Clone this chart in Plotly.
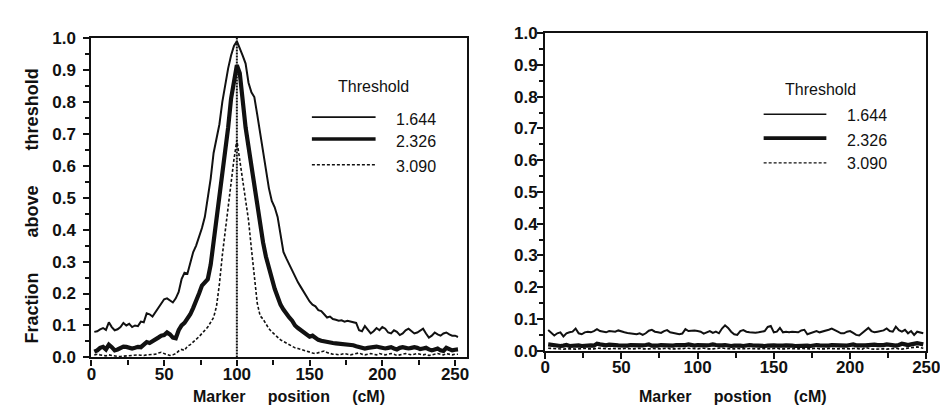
import plotly.graph_objects as go

# ---------------- data ----------------
x_left = list(range(2, 253, 2))          # 2..252 cM
x_right = list(range(2, 249, 2))         # 2..248 cM
qtl_position = 100

left_1644 = [0.080, 0.082, 0.088, 0.092, 0.086, 0.110, 0.095, 0.085, 0.088, 0.095,
             0.108, 0.100, 0.105, 0.095, 0.100, 0.098, 0.112, 0.110, 0.138, 0.135,
             0.128, 0.142, 0.155, 0.170, 0.182, 0.185, 0.178, 0.172, 0.185, 0.205,
             0.245, 0.265, 0.262, 0.300, 0.330, 0.350, 0.375, 0.405, 0.440, 0.500,
             0.560, 0.640, 0.680, 0.730, 0.800, 0.860, 0.905, 0.945, 0.975, 0.990,
             0.970, 0.945, 0.920, 0.860, 0.830, 0.815, 0.760, 0.700, 0.650, 0.580,
             0.530, 0.490, 0.470, 0.440, 0.390, 0.330, 0.310, 0.290, 0.270, 0.255,
             0.235, 0.220, 0.205, 0.190, 0.175, 0.165, 0.160, 0.148, 0.145, 0.135,
             0.125, 0.128, 0.120, 0.118, 0.115, 0.116, 0.112, 0.115, 0.112, 0.110,
             0.108, 0.085, 0.082, 0.098, 0.085, 0.075, 0.082, 0.092, 0.085, 0.095,
             0.090, 0.078, 0.075, 0.085, 0.080, 0.070, 0.075, 0.085, 0.090, 0.082,
             0.075, 0.078, 0.085, 0.090, 0.075, 0.062, 0.068, 0.078, 0.072, 0.068,
             0.075, 0.078, 0.072, 0.068, 0.068, 0.064]

left_2326 = [0.018, 0.022, 0.030, 0.033, 0.025, 0.040, 0.032, 0.022, 0.025, 0.030,
             0.034, 0.033, 0.030, 0.028, 0.030, 0.033, 0.032, 0.040, 0.048, 0.045,
             0.052, 0.058, 0.062, 0.068, 0.070, 0.078, 0.072, 0.062, 0.060, 0.085,
             0.100, 0.108, 0.120, 0.135, 0.155, 0.175, 0.200, 0.225, 0.235, 0.245,
             0.290, 0.360, 0.430, 0.500, 0.580, 0.650, 0.720, 0.810, 0.870, 0.915,
             0.890, 0.800, 0.720, 0.660, 0.600, 0.530, 0.470, 0.420, 0.360, 0.315,
             0.280, 0.250, 0.215, 0.190, 0.165, 0.150, 0.135, 0.125, 0.115, 0.100,
             0.092, 0.085, 0.078, 0.070, 0.065, 0.068, 0.060, 0.055, 0.052, 0.050,
             0.046, 0.045, 0.045, 0.044, 0.043, 0.044, 0.042, 0.040, 0.040, 0.038,
             0.035, 0.032, 0.030, 0.028, 0.030, 0.032, 0.035, 0.034, 0.032, 0.030,
             0.028, 0.030, 0.032, 0.028, 0.025, 0.030, 0.032, 0.030, 0.028, 0.030,
             0.032, 0.030, 0.026, 0.028, 0.030, 0.025, 0.022, 0.025, 0.028, 0.022,
             0.020, 0.030, 0.025, 0.022, 0.024, 0.025]

left_3090 = [0.008, 0.010, 0.008, 0.006, 0.005, 0.008, 0.006, 0.004, 0.003, 0.003,
             0.004, 0.003, 0.004, 0.005, 0.006, 0.008, 0.007, 0.006, 0.008, 0.008,
             0.008, 0.010, 0.014, 0.016, 0.012, 0.008, 0.006, 0.008, 0.012, 0.020,
             0.025, 0.022, 0.035, 0.040, 0.048, 0.055, 0.065, 0.075, 0.085, 0.095,
             0.110, 0.125, 0.160, 0.230, 0.320, 0.400, 0.470, 0.560, 0.620, 0.680,
             0.620, 0.560, 0.490, 0.430, 0.340, 0.260, 0.170, 0.130, 0.120, 0.105,
             0.090, 0.080, 0.072, 0.062, 0.055, 0.050, 0.045, 0.040, 0.035, 0.030,
             0.028, 0.025, 0.022, 0.018, 0.015, 0.014, 0.012, 0.015, 0.018, 0.020,
             0.015, 0.012, 0.010, 0.010, 0.008, 0.010, 0.012, 0.010, 0.008, 0.010,
             0.012, 0.014, 0.010, 0.008, 0.010, 0.012, 0.010, 0.008, 0.012, 0.010,
             0.008, 0.010, 0.012, 0.010, 0.006, 0.008, 0.010, 0.012, 0.010, 0.008,
             0.010, 0.012, 0.010, 0.008, 0.010, 0.006, 0.008, 0.010, 0.012, 0.010,
             0.008, 0.012, 0.010, 0.008, 0.010, 0.010]

right_1644 = [0.065, 0.055, 0.048, 0.055, 0.058, 0.045, 0.055, 0.058, 0.060, 0.070,
              0.055, 0.052, 0.058, 0.060, 0.058, 0.062, 0.068, 0.062, 0.060, 0.058,
              0.062, 0.060, 0.060, 0.064, 0.060, 0.058, 0.056, 0.055, 0.054, 0.052,
              0.055, 0.050, 0.055, 0.063, 0.066, 0.060, 0.058, 0.056, 0.062, 0.065,
              0.058, 0.056, 0.055, 0.052, 0.054, 0.068, 0.062, 0.063, 0.064, 0.062,
              0.060, 0.054, 0.058, 0.062, 0.056, 0.060, 0.055, 0.070, 0.080, 0.072,
              0.060, 0.052, 0.050, 0.062, 0.065, 0.060, 0.058, 0.057, 0.057, 0.058,
              0.060, 0.062, 0.075, 0.078, 0.058, 0.060, 0.072, 0.058, 0.060, 0.058,
              0.060, 0.058, 0.058, 0.064, 0.066, 0.052, 0.055, 0.058, 0.062, 0.058,
              0.060, 0.064, 0.066, 0.070, 0.066, 0.060, 0.055, 0.055, 0.060, 0.062,
              0.056, 0.050, 0.048, 0.056, 0.064, 0.072, 0.062, 0.058, 0.060, 0.062,
              0.064, 0.070, 0.062, 0.060, 0.076, 0.065, 0.060, 0.066, 0.055, 0.062,
              0.050, 0.060, 0.058, 0.055]

right_2326 = [0.020, 0.018, 0.016, 0.017, 0.015, 0.016, 0.018, 0.015, 0.016, 0.018,
              0.017, 0.015, 0.016, 0.018, 0.017, 0.016, 0.022, 0.020, 0.018, 0.017,
              0.019, 0.020, 0.018, 0.017, 0.016, 0.015, 0.016, 0.018, 0.017, 0.016,
              0.018, 0.017, 0.018, 0.020, 0.016, 0.015, 0.016, 0.018, 0.017, 0.016,
              0.015, 0.016, 0.018, 0.017, 0.016, 0.018, 0.020, 0.017, 0.016, 0.018,
              0.017, 0.015, 0.017, 0.018, 0.020, 0.018, 0.016, 0.017, 0.018, 0.016,
              0.015, 0.016, 0.017, 0.016, 0.015, 0.017, 0.018, 0.017, 0.016, 0.017,
              0.016, 0.015, 0.016, 0.018, 0.017, 0.016, 0.015, 0.016, 0.017, 0.018,
              0.016, 0.015, 0.016, 0.017, 0.018, 0.016, 0.015, 0.017, 0.018, 0.017,
              0.016, 0.015, 0.016, 0.018, 0.017, 0.016, 0.018, 0.017, 0.016, 0.018,
              0.020, 0.017, 0.016, 0.018, 0.017, 0.018, 0.020, 0.019, 0.018, 0.017,
              0.018, 0.020, 0.018, 0.017, 0.016, 0.018, 0.022, 0.020, 0.018, 0.020,
              0.022, 0.024, 0.022, 0.020]

right_3090 = [0.008, 0.007, 0.006, 0.007, 0.006, 0.005, 0.006, 0.007, 0.006, 0.005,
              0.006, 0.007, 0.008, 0.006, 0.005, 0.006, 0.008, 0.007, 0.006, 0.005,
              0.006, 0.007, 0.006, 0.005, 0.006, 0.007, 0.006, 0.005, 0.006, 0.007,
              0.008, 0.006, 0.005, 0.006, 0.007, 0.006, 0.005, 0.006, 0.007, 0.008,
              0.006, 0.005, 0.006, 0.007, 0.006, 0.008, 0.007, 0.006, 0.005, 0.006,
              0.007, 0.008, 0.006, 0.005, 0.006, 0.007, 0.008, 0.009, 0.007, 0.006,
              0.005, 0.006, 0.007, 0.006, 0.005, 0.006, 0.007, 0.006, 0.005, 0.006,
              0.007, 0.006, 0.005, 0.006, 0.007, 0.008, 0.006, 0.005, 0.006, 0.007,
              0.006, 0.005, 0.006, 0.007, 0.006, 0.005, 0.006, 0.007, 0.008, 0.006,
              0.005, 0.006, 0.007, 0.006, 0.005, 0.006, 0.007, 0.006, 0.005, 0.006,
              0.007, 0.008, 0.006, 0.005, 0.010, 0.007, 0.006, 0.005, 0.006, 0.007,
              0.006, 0.005, 0.006, 0.007, 0.008, 0.006, 0.005, 0.007, 0.008, 0.009,
              0.010, 0.012, 0.010, 0.008]

thresholds = ["1.644", "2.326", "3.090"]
x_ticks = [0, 50, 100, 150, 200, 250]
x_tick_text = ["0", "50", "100", "150", "200", "250"]
y_ticks = [0.0, 0.1, 0.2, 0.3, 0.4, 0.5, 0.6, 0.7, 0.8, 0.9, 1.0]
y_tick_text = ["0.0", "0.1", "0.2", "0.3", "0.4", "0.5", "0.6", "0.7", "0.8", "0.9", "1.0"]

# ---------------- figure ----------------
W, H = 948, 409
INK = "#111111"
FONT = "Liberation Sans, Arial, sans-serif"
styles = [dict(width=2.0, dash="solid"),
          dict(width=4.2, dash="solid"),
          dict(width=1.6, dash="3px,2px")]

fig = go.Figure()
for xs, series, xa, ya in [(x_left, [left_1644, left_2326, left_3090], "x", "y"),
                           (x_right, [right_1644, right_2326, right_3090], "x2", "y2")]:
    for ys, st, name in zip(series, styles, thresholds):
        fig.add_trace(go.Scatter(x=xs, y=ys, mode="lines", name=name, xaxis=xa, yaxis=ya,
                                 line=dict(color=INK, width=st["width"], dash=st["dash"]),
                                 showlegend=False))

# QTL position marker line (left panel)
fig.add_trace(go.Scatter(x=[qtl_position, qtl_position], y=[0, 1], mode="lines",
                         xaxis="x", yaxis="y", showlegend=False,
                         line=dict(color=INK, width=2.0, dash="2px,1px")))

def px(x):
    return x / W

def py(y):
    return 1 - y / H

bold = lambda s: f"<b>{s}</b>"

base_axis = dict(showgrid=False, zeroline=False, showline=True, linecolor=INK, linewidth=2.2,
                 mirror=True, ticks="outside", ticklen=6, tickwidth=2, tickcolor=INK,
                 tickfont=dict(family=FONT, size=17, color=INK))
x_minor = dict(ticks="outside", ticklen=5, tickwidth=1.8, tickcolor=INK,
               tickvals=[25, 75, 125, 175, 225])
y_minor = dict(ticks="outside", ticklen=4, tickwidth=1.8, tickcolor=INK,
               tickvals=[0.05 + 0.1 * i for i in range(10)])

fig.update_layout(
    width=W, height=H, margin=dict(l=0, r=0, t=0, b=0),
    paper_bgcolor="white", plot_bgcolor="white",
    xaxis=dict(domain=[px(80), px(463)], range=[0, 258], tickvals=x_ticks,
               ticktext=[bold(t) for t in x_tick_text], anchor="y", minor=x_minor,
               ticklabelstandoff=-6, **base_axis),
    yaxis=dict(domain=[py(357), py(22)], range=[0, 1], tickvals=y_ticks,
               ticktext=[bold(t) for t in y_tick_text], anchor="x", minor=y_minor,
               ticklabelstandoff=4, **base_axis),
    xaxis2=dict(domain=[px(543), px(932)], range=[0, 250], tickvals=x_ticks,
                ticktext=[bold(t) for t in x_tick_text], anchor="y2", minor=x_minor,
                ticklabelstandoff=-6, **base_axis),
    yaxis2=dict(domain=[py(350), py(17)], range=[0, 1], tickvals=y_ticks,
                ticktext=[bold(t) for t in y_tick_text], anchor="x2", minor=y_minor,
                ticklabelstandoff=-4, **base_axis),
)

SP = "\u00a0" * 5
SPY = "\u00a0" * 7
title_font = dict(family=FONT, size=16, color=INK)
annotations = [
    dict(text=bold(f"Marker{SP}position{SP}(cM)"), x=px(282), y=py(398), xref="paper",
         yref="paper", showarrow=False, font=title_font, xanchor="center", yanchor="middle"),
    dict(text=bold(f"Marker{SP}postion{SP}(cM)"), x=px(735), y=py(398), xref="paper",
         yref="paper", showarrow=False, font=title_font, xanchor="center", yanchor="middle"),
    dict(text=bold(f"Fraction{SPY}above{SPY}threshold"), x=px(19), y=py(198), xref="paper",
         yref="paper", showarrow=False, font=dict(family=FONT, size=18, color=INK),
         textangle=-90, xanchor="center", yanchor="middle"),
]

shapes = []
legend_font = dict(family=FONT, size=16, color=INK)
# legend blocks: (title x, title y, line x0, line x1, label x, line ys, label ys)
legend_blocks = [
    (368, 73, 305, 370, 389, [105, 128, 155], [107, 131, 157]),
    (824, 76, 766, 830, 849, [102, 127, 153], [103, 129, 154]),
]
for tx, ty, lx0, lx1, labx, lys, labys in legend_blocks:
    annotations.append(dict(text="Threshold", x=px(tx), y=py(ty), xref="paper", yref="paper",
                            showarrow=False, font=legend_font, xanchor="center", yanchor="middle"))
    for st, name, ly, laby in zip(styles, thresholds, lys, labys):
        shapes.append(dict(type="line", xref="paper", yref="paper",
                           x0=px(lx0), x1=px(lx1), y0=py(ly), y1=py(ly),
                           line=dict(color=INK, width=st["width"] * 0.85, dash=st["dash"])))
        annotations.append(dict(text=name, x=px(labx), y=py(laby), xref="paper", yref="paper",
                                showarrow=False, font=legend_font, xanchor="left",
                                yanchor="middle"))

fig.update_layout(annotations=annotations, shapes=shapes)
fig.write_html("out.html")
